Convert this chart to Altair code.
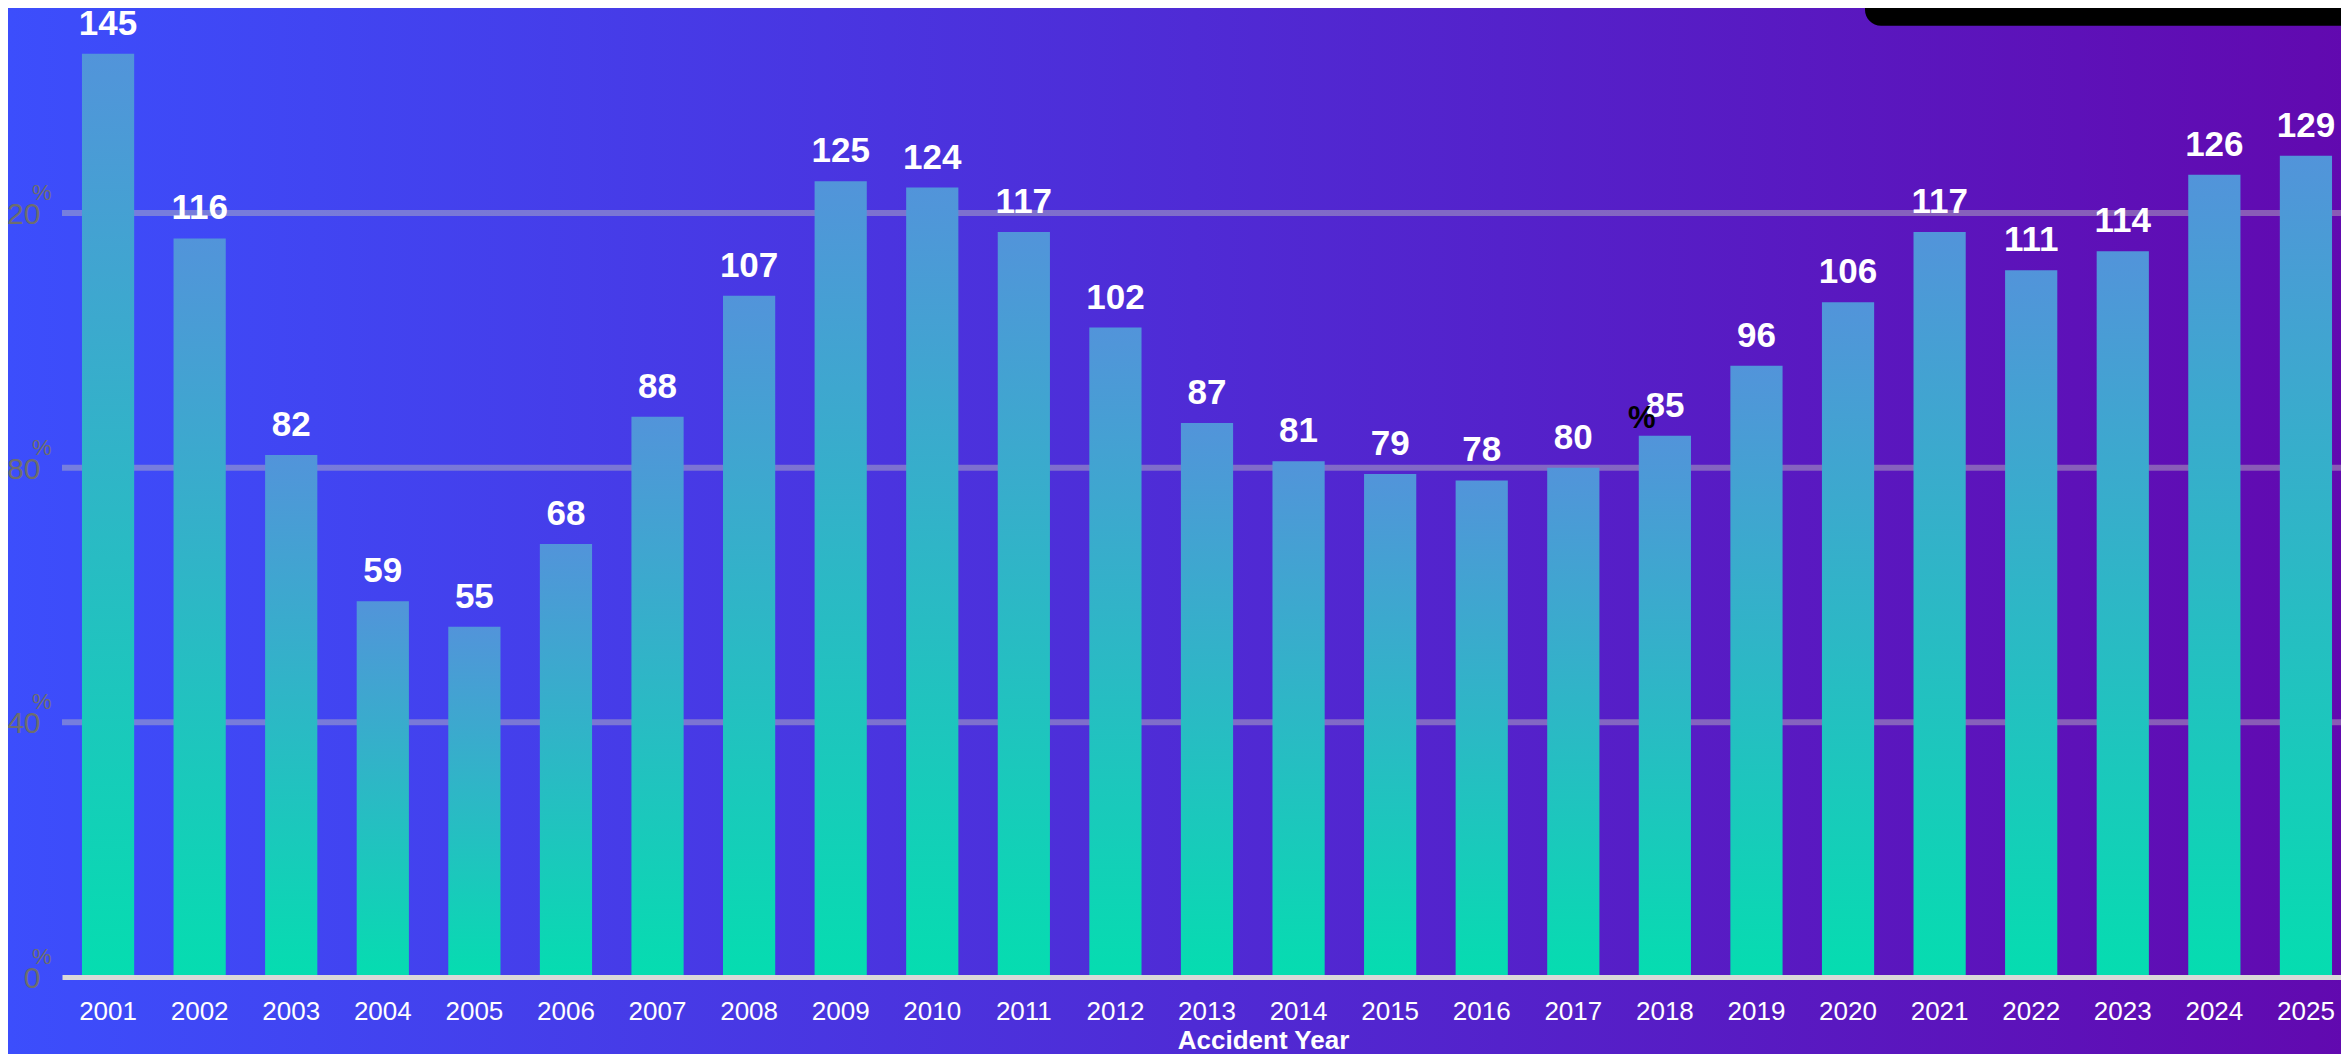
import altair as alt
import pandas as pd

# ---- data ----
years = [2001, 2002, 2003, 2004, 2005, 2006, 2007, 2008, 2009, 2010, 2011, 2012, 2013,
         2014, 2015, 2016, 2017, 2018, 2019, 2020, 2021, 2022, 2023, 2024, 2025]
values = [145, 116, 82, 59, 55, 68, 88, 107, 125, 124, 117, 102, 87,
          81, 79, 78, 80, 85, 96, 106, 117, 111, 114, 126, 129]
y_ticks = [0, 40, 80, 120]
grid_values = [40, 80, 120]
stray_year = [2018]
stray_value = [85]

FONT = "Liberation Sans"
W, H = 2279, 955
PAD = {"left": 54, "top": 14, "right": 0, "bottom": 77}

df = pd.DataFrame({"year": years, "value": values, "label": [str(v) for v in values]})
ticks_df = pd.DataFrame({"tick": y_ticks, "num": [str(t) for t in y_ticks], "pct": ["%"] * len(y_ticks)})
grid_df = pd.DataFrame({"g": grid_values})
stray_df = pd.DataFrame({"year": stray_year, "value": stray_value, "t": ["%"]})

yscale = alt.Scale(domain=[0, 150], nice=False, zero=True)
xscale = alt.Scale(paddingInner=0.43, paddingOuter=0.158, align=0.69)

bg = alt.Chart(alt.Data(values=[{"a": 1}])).mark_rect(
    fill=alt.Gradient(
        gradient="linear",
        stops=[alt.GradientStop(color="#3C4EFC", offset=0),
               alt.GradientStop(color="#6208AE", offset=1)],
        x1=0, x2=1, y1=0, y2=0,
    ),
).encode(
    x=alt.value(-PAD["left"]), x2=alt.value(W + 40),
    y=alt.value(-PAD["top"] - 20), y2=alt.value(H + PAD["bottom"] + 20),
)

grid = alt.Chart(grid_df).mark_rule(color="#BDBDBD", strokeWidth=6, opacity=0.45).encode(
    y=alt.Y("g:Q", scale=yscale, axis=None)
)

bars = alt.Chart(df).mark_bar(
    fill=alt.Gradient(
        gradient="linear",
        stops=[alt.GradientStop(color="#05DDB0", offset=0),
               alt.GradientStop(color="#5294DA", offset=1)],
        x1=0, x2=0, y1=1, y2=0,
    ),
).encode(
    x=alt.X("year:O", scale=xscale, axis=alt.Axis(
        title="Accident Year", labelAngle=0, labelColor="white", labelFont=FONT,
        labelFontSize=26, labelPadding=42, labelBaseline="alphabetic",
        ticks=False, tickSize=0, domainColor="#D9D9D9", domainWidth=5,
        titleColor="white", titleFont=FONT, titleFontSize=26, titleFontWeight="bold",
        titleX=1201, titleY=71, titleAlign="center", titleBaseline="alphabetic",
        zindex=1, grid=False)),
    y=alt.Y("value:Q", scale=yscale, axis=None),
)

bar_labels = alt.Chart(df).mark_text(
    font=FONT, fontSize=35, fontWeight="bold", color="white",
    baseline="alphabetic", dy=-19,
).encode(
    x=alt.X("year:O", scale=xscale),
    y=alt.Y("value:Q", scale=yscale),
    text="label:N",
)

ynum = alt.Chart(ticks_df).mark_text(
    font=FONT, fontSize=30, color="#6E6E6E", align="right", baseline="alphabetic", dy=11,
).encode(
    x=alt.value(-21.5),
    y=alt.Y("tick:Q", scale=yscale),
    text="num:N",
)

ypct = alt.Chart(ticks_df).mark_text(
    font=FONT, fontSize=22, color="#6E6E6E", align="left", baseline="alphabetic", dy=-13,
).encode(
    x=alt.value(-30),
    y=alt.Y("tick:Q", scale=yscale),
    text="pct:N",
)

stray = alt.Chart(stray_df).mark_text(
    font=FONT, fontSize=31, fontWeight="bold", color="black",
    baseline="alphabetic", dx=-23, dy=-8,
).encode(
    x=alt.X("year:O", scale=xscale),
    y=alt.Y("value:Q", scale=yscale),
    text="t:N",
)

box = alt.Chart(alt.Data(values=[{"a": 1}])).mark_rect(
    color="black", cornerRadius=16,
).encode(
    x=alt.value(1803), x2=alt.value(W + 40),
    y=alt.value(-60), y2=alt.value(3.7),
)

chart = alt.layer(bg, grid, bars, bar_labels, ynum, ypct, stray, box).properties(
    width=W, height=H,
    autosize=alt.AutoSizeParams(type="none"),
    padding=PAD,
    background="#4A30E0",
).configure_view(strokeWidth=0)

chart.save("out.html", embed_options={"renderer": "svg", "actions": False})
